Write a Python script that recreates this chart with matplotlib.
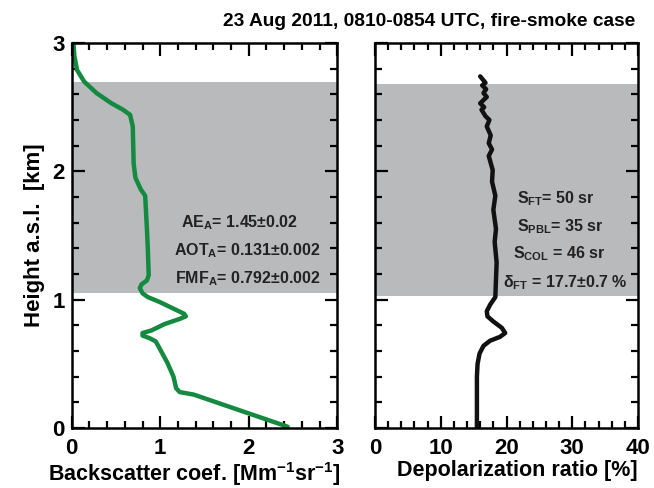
import numpy as np
import matplotlib
matplotlib.use("Agg")
import matplotlib.pyplot as plt
from matplotlib.ticker import MultipleLocator

plt.rcParams['font.family'] = ['Liberation Sans', 'DejaVu Sans']
plt.rcParams['font.weight'] = 'bold'
plt.rcParams['mathtext.fontset'] = 'custom'
plt.rcParams['mathtext.rm'] = 'Liberation Sans:bold'
plt.rcParams['mathtext.it'] = 'Liberation Sans:bold'
plt.rcParams['mathtext.bf'] = 'Liberation Sans:bold'

# backscatter profile (Mm-1 sr-1) vs height (km)
bsc_x = [2.44, 1.38, 1.22, 1.18, 1.15, 1.08, 0.95, 0.88, 0.80, 0.80, 0.90, 1.05,
         1.22, 1.29, 1.27, 1.15, 1.00, 0.86, 0.80, 0.77, 0.79, 0.85, 0.87, 0.86,
         0.85, 0.83, 0.78, 0.72, 0.70, 0.69, 0.66, 0.58, 0.45, 0.28, 0.14, 0.06,
         0.03, 0.02]
bsc_h = [0.01, 0.26, 0.28, 0.31, 0.40, 0.51, 0.675, 0.70, 0.72, 0.74, 0.76, 0.81,
         0.85, 0.87, 0.89, 0.93, 0.98, 1.02, 1.05, 1.09, 1.12, 1.15, 1.19, 1.40,
         1.55, 1.81, 1.86, 1.95, 2.06, 2.35, 2.44, 2.48, 2.53, 2.61, 2.70, 2.79,
         2.90, 3.0]

# depolarization ratio (%) vs height (km)
dep_x = [15.5, 15.5, 15.6, 15.9, 16.5, 17.5, 19.0, 19.8, 19.3, 18.0, 17.1, 17.0,
         17.5, 18.3, 18.5, 18.2, 18.4, 18.0, 18.3, 17.8, 17.9, 17.3, 17.8, 17.3,
         17.6, 17.0, 17.4, 16.8, 16.2, 16.6, 16.0, 17.0, 16.5, 16.9, 16.3, 16.8,
         16.0]
dep_h = [0.0, 0.40, 0.50, 0.58, 0.64, 0.68, 0.71, 0.74, 0.78, 0.83, 0.87, 0.91,
         0.96, 1.02, 1.29, 1.45, 1.55, 1.70, 1.81, 1.92, 2.01, 2.12, 2.17, 2.22,
         2.28, 2.35, 2.40, 2.43, 2.48, 2.50, 2.53, 2.58, 2.61, 2.64, 2.67, 2.69,
         2.74]

layer_bsc = (1.05, 2.70)
layer_dep = (1.03, 2.68)

bsc_text = [r'AE$_{\rm A}$= 1.45±0.02', r'AOT$_{\rm A}$= 0.131±0.002', r'FMF$_{\rm A}$= 0.792±0.002']
bsc_text_x = [1.23, 1.16, 1.17]
bsc_text_y = [1.60, 1.38, 1.16]
dep_text = [r'S$_{\rm FT}$= 50 sr', r'S$_{\rm PBL}$= 35 sr', r'S$_{\rm COL}$ = 46 sr', r'δ$_{\rm FT}$ = 17.7±0.7 %']
dep_text_x = [21.6, 21.6, 21.0, 19.5]
dep_text_y = [1.79, 1.57, 1.36, 1.13]

fig = plt.figure(figsize=(6.54, 4.88), dpi=100)
ax1 = fig.add_axes([71.7 / 654, 1 - 428 / 488, 265.5 / 654, 385 / 488])
ax2 = fig.add_axes([375 / 654, 1 - 428 / 488, 263 / 654, 385 / 488])

gray = '#b9babc'
ax1.axhspan(*layer_bsc, color=gray, lw=0)
ax2.axhspan(*layer_dep, color=gray, lw=0)

ax1.plot(bsc_x, bsc_h, color='#138a3f', lw=3.2, solid_capstyle='round', solid_joinstyle='round')
ax2.plot(dep_x, dep_h, color='#111111', lw=3.2, solid_capstyle='round', solid_joinstyle='round')

ax1.set_xlim(0, 3)
ax2.set_xlim(0, 40)
for ax in (ax1, ax2):
    ax.set_ylim(0, 3)
    ax.yaxis.set_major_locator(MultipleLocator(1))
    ax.yaxis.set_minor_locator(MultipleLocator(0.2))
    ax.tick_params(which='both', direction='in', top=True, right=True, width=1.6, labelsize=16)
    ax.tick_params(axis='x', pad=7)
    ax.tick_params(axis='y', pad=5)
    ax.tick_params(which='major', length=9)
    ax.tick_params(which='minor', length=5)
    for s in ax.spines.values():
        s.set_linewidth(1.8)
    for lab in ax.get_xticklabels() + ax.get_yticklabels():
        lab.set_fontweight('bold')

ax1.xaxis.set_major_locator(MultipleLocator(1))
ax1.xaxis.set_minor_locator(MultipleLocator(0.2))
ax2.xaxis.set_major_locator(MultipleLocator(10))
ax2.xaxis.set_minor_locator(MultipleLocator(2))
ax2.set_yticklabels([])

ax1.set_ylabel('Height a.s.l.  [km]', fontsize=16, fontweight='bold', labelpad=5)
ax1.set_xlabel(r'Backscatter coef. [Mm$^{-1}$sr$^{-1}$]', fontsize=15.5, fontweight='bold')
ax2.set_xlabel('Depolarization ratio [%]', fontsize=15.5, fontweight='bold')
ax1.xaxis.set_label_coords(0.46, -0.084)
ax2.xaxis.set_label_coords(0.54, -0.084)

for t, x, y in zip(bsc_text, bsc_text_x, bsc_text_y):
    ax1.text(x, y, t, fontsize=11.5, fontweight='bold', va='center', ha='left', color='#222222')
for t, x, y in zip(dep_text, dep_text_x, dep_text_y):
    ax2.text(x, y, t, fontsize=11.5, fontweight='bold', va='center', ha='left', color='#222222')

fig.text(635 / 654, 1 - 22 / 488, '23 Aug 2011, 0810-0854 UTC, fire-smoke case',
         fontsize=13.8, fontweight='bold', ha='right', va='center')

fig.savefig('out.png', dpi=100)
